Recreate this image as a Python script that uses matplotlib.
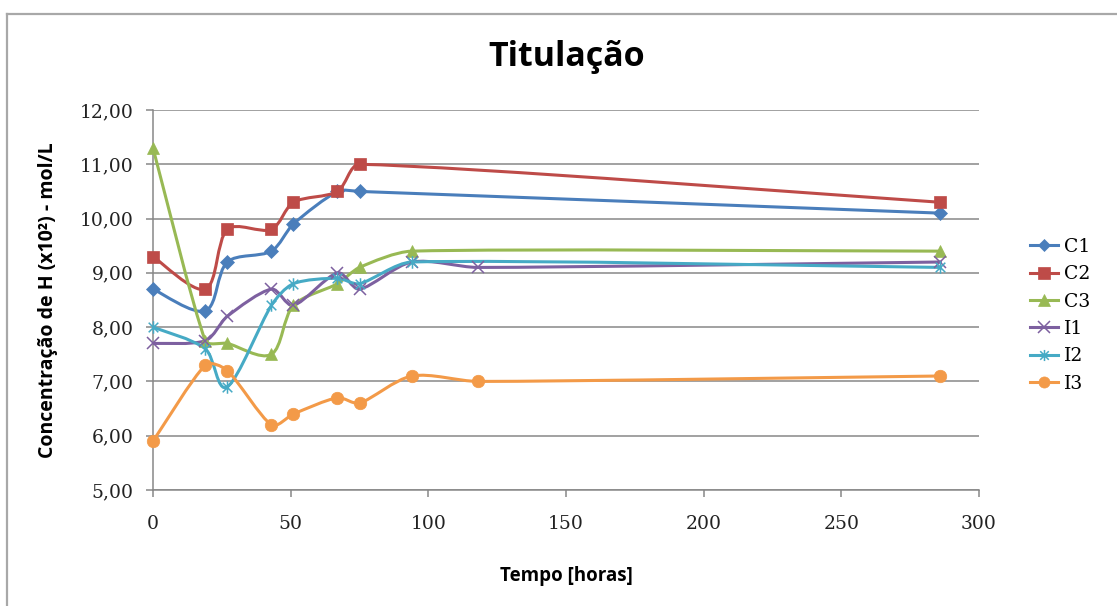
import numpy as np
import matplotlib
matplotlib.use("Agg")
import matplotlib.pyplot as plt
from matplotlib.path import Path
from matplotlib.patches import PathPatch
from matplotlib.lines import Line2D

# ---- data ----
title = "Titulação"
xlabel = "Tempo [horas]"
ylabel = "Concentração de H (x10²) - mol/L"

c1_x = [0, 19, 27, 43, 51, 67, 75, 286]
c1_y = [8.7, 8.3, 9.2, 9.4, 9.9, 10.5, 10.5, 10.1]
c2_x = [0, 19, 27, 43, 51, 67, 75, 286]
c2_y = [9.3, 8.7, 9.8, 9.8, 10.3, 10.5, 11.0, 10.3]
c3_x = [0, 19, 27, 43, 51, 67, 75, 94, 286]
c3_y = [11.3, 7.75, 7.7, 7.5, 8.4, 8.8, 9.1, 9.4, 9.4]
i1_x = [0, 19, 27, 43, 51, 67, 75, 94, 118, 286]
i1_y = [7.7, 7.75, 8.2, 8.7, 8.4, 9.0, 8.7, 9.2, 9.1, 9.2]
i2_x = [0, 19, 27, 43, 51, 67, 75, 94, 286]
i2_y = [8.0, 7.6, 6.9, 8.4, 8.8, 8.9, 8.8, 9.2, 9.1]
i3_x = [0, 19, 27, 43, 51, 67, 75, 94, 118, 286]
i3_y = [5.9, 7.3, 7.2, 6.2, 6.4, 6.7, 6.6, 7.1, 7.0, 7.1]

series_names = ["C1", "C2", "C3", "I1", "I2", "I3"]
yticks = [5, 6, 7, 8, 9, 10, 11, 12]
xticks = [0, 50, 100, 150, 200, 250, 300]

colors = ["#4A7EBB", "#BE4B48", "#98B954", "#7D60A0", "#46AAC5", "#F39A48"]
star = Path([(-1, -1), (1, 1), (-1, 1), (1, -1), (0, -1.3), (0, 1.3)],
            [Path.MOVETO, Path.LINETO, Path.MOVETO, Path.LINETO, Path.MOVETO, Path.LINETO])
markers = ["D", "s", "^", "x", star, "o"]
msizes = [7, 9, 9, 9, 9, 9]

W, H = 1117, 606
fig = plt.figure(figsize=(W / 100, H / 100), dpi=100)
ax = fig.add_axes([153 / W, 1 - 490 / H, (979 - 153) / W, (490 - 110) / H])
ax.set_xlim(0, 300)
ax.set_ylim(5, 12)

sx = 826 / 300.0
sy = 380 / 7.0


def smooth_patch(xs, ys, color):
    P = np.column_stack([np.asarray(xs, float) * sx, np.asarray(ys, float) * sy])
    n = len(P)
    T = []
    for i in range(n):
        a = P[max(i - 1, 0)]
        b = P[min(i + 1, n - 1)]
        T.append(b - a)
    verts = [P[0]]
    codes = [Path.MOVETO]
    for i in range(n - 1):
        L = np.linalg.norm(P[i + 1] - P[i])
        t0, t1 = T[i], T[i + 1]
        n0, n1 = np.linalg.norm(t0), np.linalg.norm(t1)
        d0 = min(n0 / 6, L / 3.5)
        d1 = min(n1 / 6, L / 3.5)
        c1 = P[i] + (t0 / n0 * d0 if n0 > 0 else 0)
        c2 = P[i + 1] - (t1 / n1 * d1 if n1 > 0 else 0)
        verts += [c1, c2, P[i + 1]]
        codes += [Path.CURVE4] * 3
    verts = np.array(verts) / np.array([sx, sy])
    patch = PathPatch(Path(verts, codes), facecolor="none", edgecolor=color,
                      lw=2.2, transform=ax.transData, zorder=3, capstyle="round",
                      joinstyle="round")
    ax.add_patch(patch)


all_x = [c1_x, c2_x, c3_x, i1_x, i2_x, i3_x]
all_y = [c1_y, c2_y, c3_y, i1_y, i2_y, i3_y]
handles = []
for xs, ys, col, mk, ms, name in zip(all_x, all_y, colors, markers, msizes, series_names):
    smooth_patch(xs, ys, col)
    mew = 1.1 if mk in ("x",) or mk is star else 0.5
    ax.plot(xs, ys, linestyle="none", marker=mk, markersize=ms, color=col,
            markeredgecolor=col, markeredgewidth=mew, zorder=4, clip_on=False)
    handles.append(Line2D([0], [0], color=col, lw=2.2, marker=mk, markersize=ms - 1,
                          markeredgewidth=mew, label=name))

for y in yticks:
    ax.axhline(y, color="#878787", lw=1.1, zorder=1)

for s in ["top", "right"]:
    ax.spines[s].set_visible(False)
ax.spines["left"].set_color("#878787")
ax.spines["bottom"].set_color("#878787")
ax.spines["left"].set_linewidth(1.1)
ax.spines["bottom"].set_linewidth(1.1)

ax.set_xticks(xticks)
ax.set_yticks(yticks)
ax.set_yticklabels([f"{v:.2f}".replace(".", ",") for v in yticks])
ax.set_xticklabels([str(v) for v in xticks])
ax.tick_params(axis="both", direction="out", length=5, color="#878787", width=1.1,
               labelsize=13.5, labelcolor="#222222")
ax.tick_params(axis="x", pad=13)
ax.tick_params(axis="y", pad=9)
for lab in ax.get_xticklabels() + ax.get_yticklabels():
    lab.set_family("DejaVu Serif")

ax.set_xlabel(xlabel, fontsize=13.5, fontweight="bold", family="Open Sans")
ax.set_ylabel(ylabel, fontsize=14, fontweight="bold", family="Open Sans")
ax.yaxis.set_label_coords(-95 / 826, 0.5)
ax.xaxis.set_label_coords(0.5, -76 / 380)

fig.text(567 / W, 1 - 57 / H, title, fontsize=24.5, fontweight="bold", family="Open Sans",
         ha="center", va="center")

leg = fig.legend(handles=handles, loc="upper left", bbox_to_anchor=(1013 / W, 1 - 221 / H),
                 frameon=False, handlelength=1.5, labelspacing=0.5,
                 prop={"family": "DejaVu Serif", "size": 13.5}, handletextpad=0.3)

# chart border (left and top visible)
fig.add_artist(Line2D([7 / W, 7 / W], [0, 1 - 14 / H], color="#A8A8A8", lw=1.6,
                      transform=fig.transFigure))
fig.add_artist(Line2D([7 / W, 1], [1 - 14 / H, 1 - 14 / H], color="#A8A8A8", lw=1.6,
                      transform=fig.transFigure))

fig.savefig("out.png", dpi=100, facecolor="white")
